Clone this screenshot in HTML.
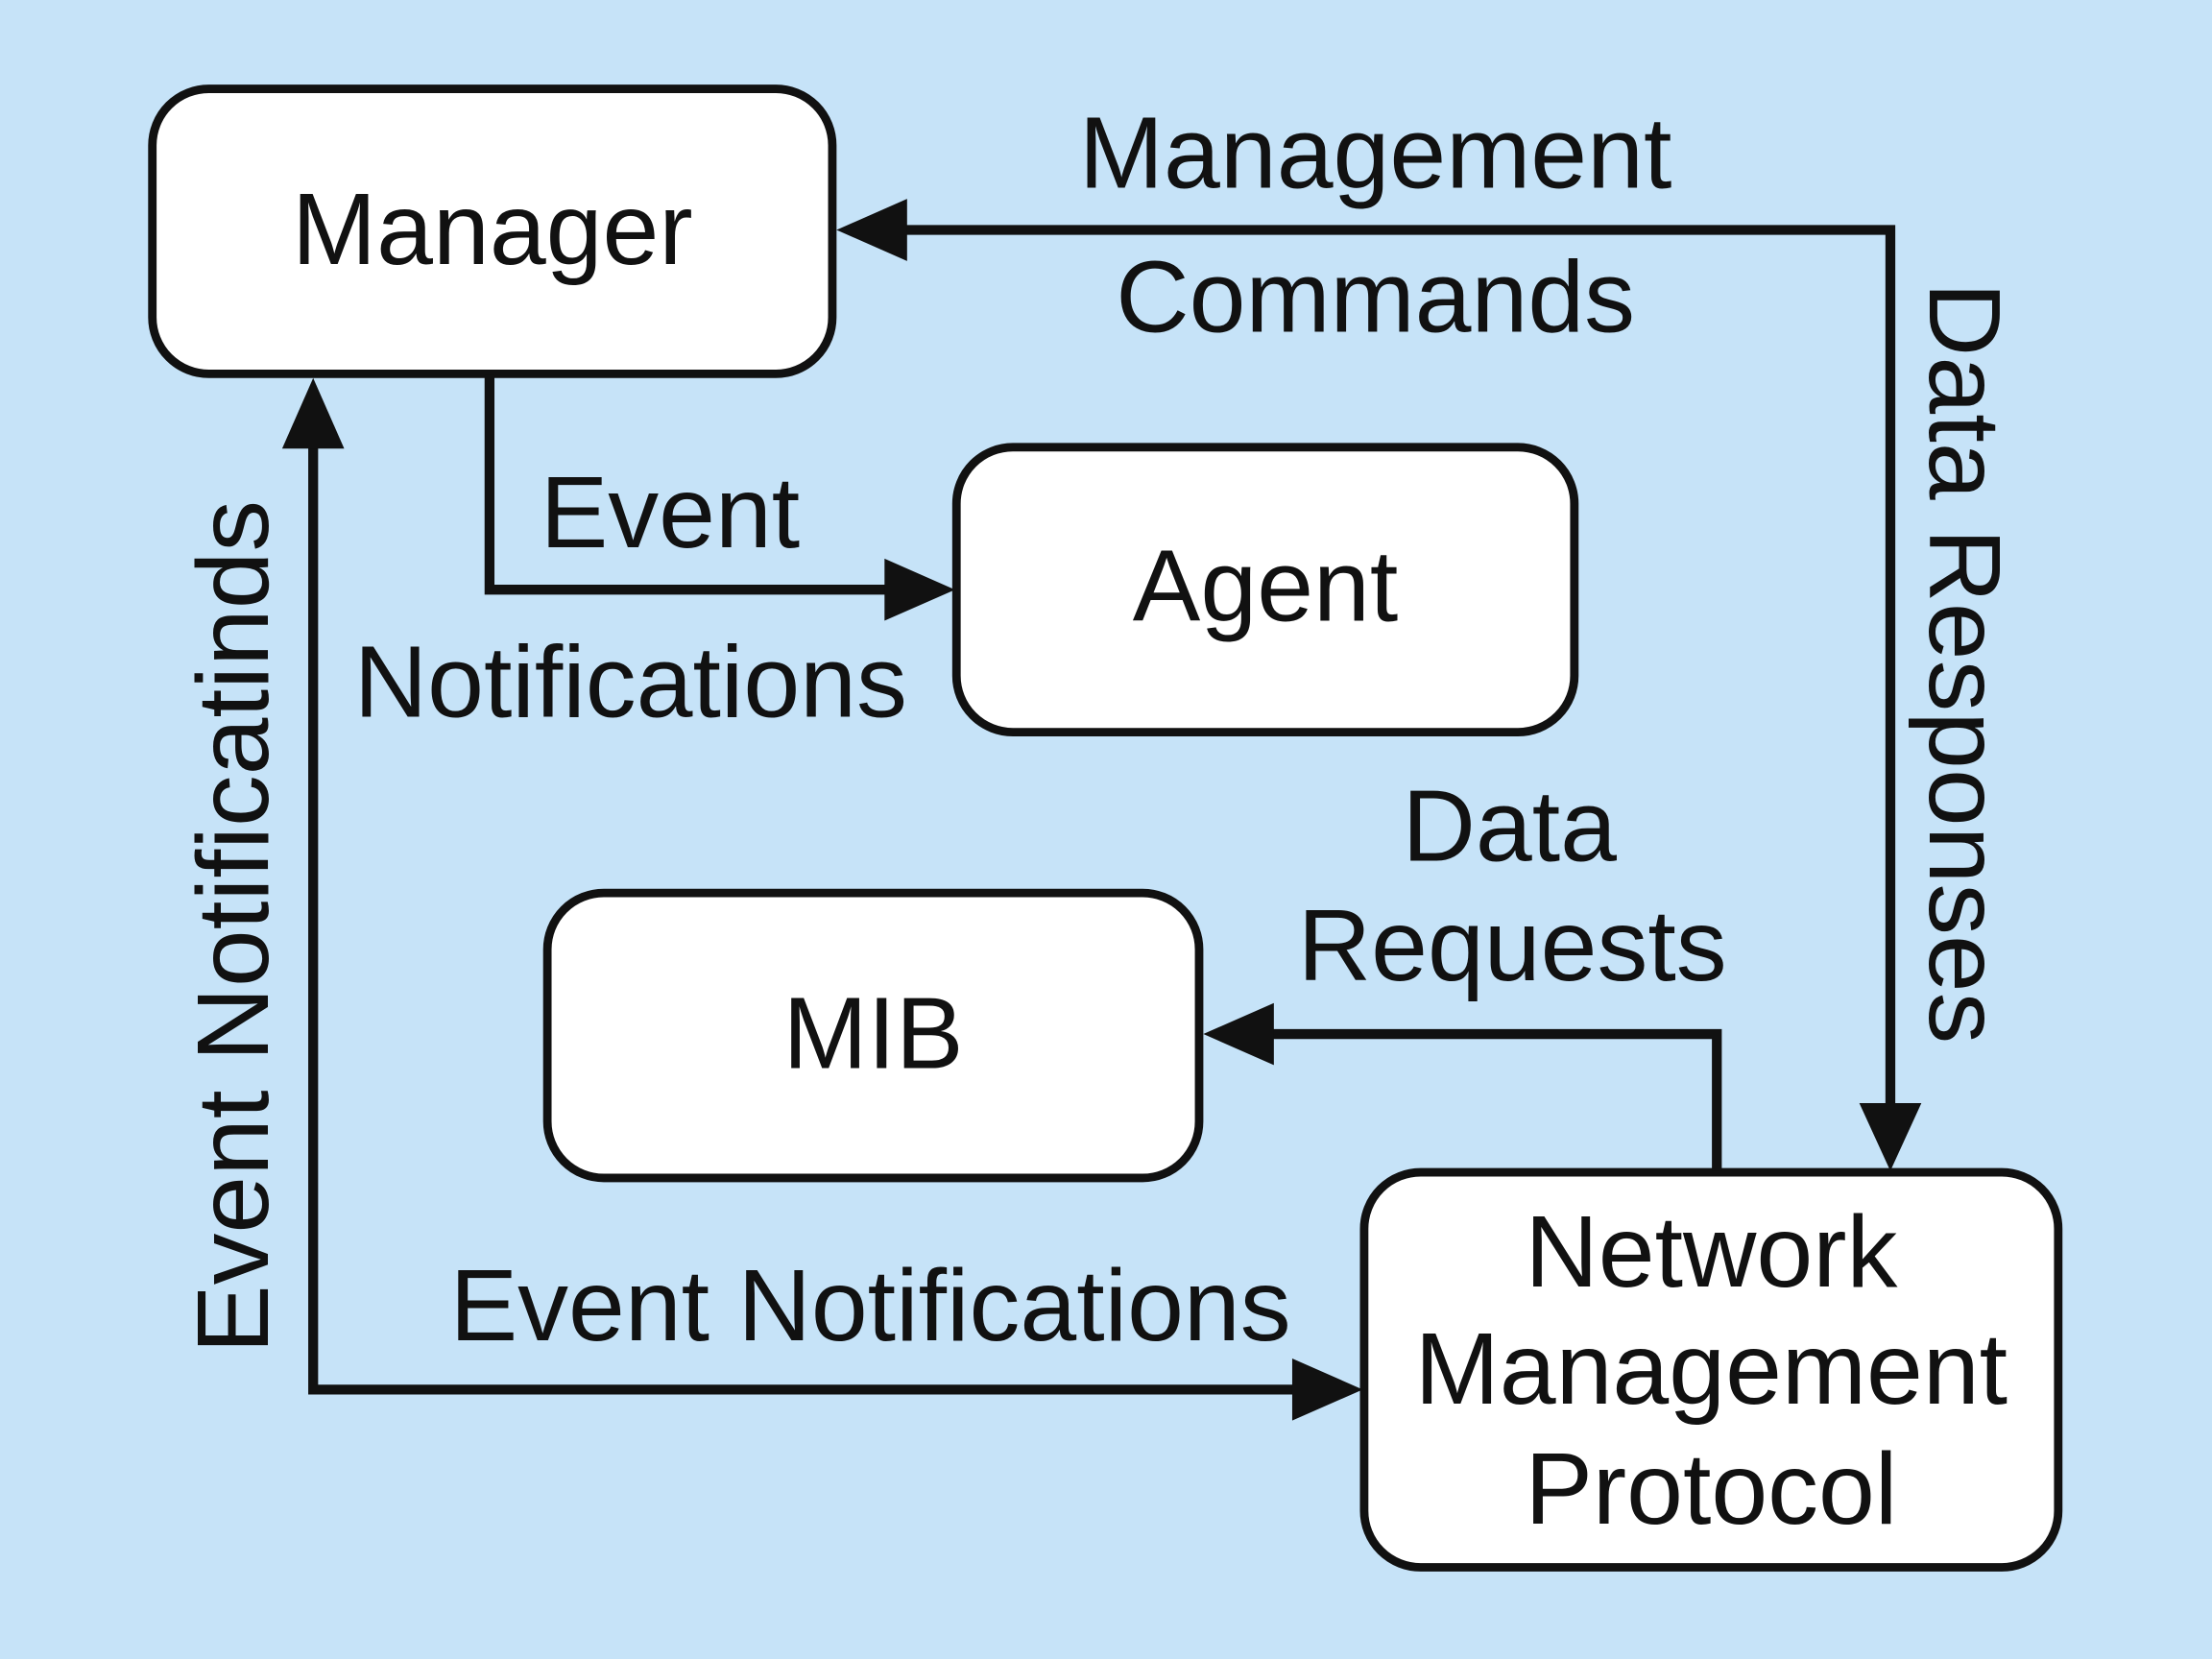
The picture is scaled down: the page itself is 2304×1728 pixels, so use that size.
<!DOCTYPE html>
<html><head><meta charset="utf-8"><style>
html,body{margin:0;padding:0;background:#c6e3f8;}
svg{display:block;}
text{font-family:"Liberation Sans",Arial,sans-serif;fill:#111;}
</style></head><body>
<svg width="2304" height="1728" viewBox="0 0 1568 1176" xmlns="http://www.w3.org/2000/svg">
<rect width="1568" height="1176" fill="#c6e3f8"/>
<g fill="#fff" stroke="#111" stroke-width="6">
<rect x="108" y="63" width="482" height="202" rx="40"/>
<rect x="678" y="317" width="438" height="202" rx="40"/>
<rect x="388" y="633" width="462" height="202" rx="40"/>
<rect x="967" y="831" width="492" height="280" rx="40"/>
</g>
<g fill="none" stroke="#111" stroke-width="7" stroke-linejoin="miter">
<polyline points="630,163 1340,163 1340,795"/>
<polyline points="347,266 347,418 630,418"/>
<polyline points="222,312 222,985 920,985"/>
<polyline points="1217,830 1217,733 898,733"/>
</g>
<g fill="#111">
<polygon points="593,163 643,141 643,185"/>
<polygon points="1340,830 1318,782 1362,782"/>
<polygon points="677,418 627,396 627,440"/>
<polygon points="222,268 200,318 244,318"/>
<polygon points="966,985 916,963 916,1007"/>
<polygon points="853,733 903,711 903,755"/>
</g>
<g font-size="72" text-anchor="middle">
<text x="349" y="187">Manager</text>
<text x="897" y="440">Agent</text>
<text x="619" y="757">MIB</text>
<text x="1213" y="912">Network</text>
<text x="1213" y="995">Management</text>
<text x="1213" y="1080">Protocol</text>
<text x="975" y="133">Management</text>
<text x="975" y="235">Commands</text>
<text x="475" y="388">Event</text>
<text x="447" y="508">Notifications</text>
<text x="1070" y="610">Data</text>
<text x="1072" y="695">Requests</text>
<text x="617" y="950">Event Notifications</text>
<text transform="translate(190,657) rotate(-90)" textLength="605" lengthAdjust="spacingAndGlyphs">Event Notificatinds</text>
<text transform="translate(1368,470) rotate(90)" textLength="540" lengthAdjust="spacingAndGlyphs">Data Responses</text>
</g>
</svg>
</body></html>
